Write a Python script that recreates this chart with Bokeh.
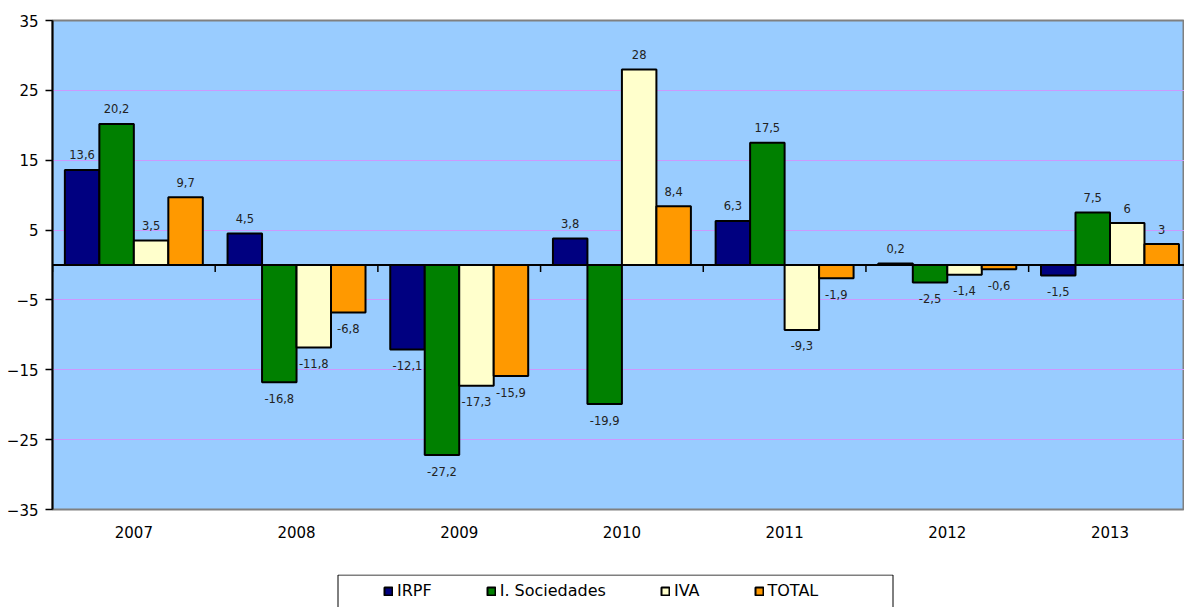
from bokeh.plotting import figure
from bokeh.layouts import column
from bokeh.models import (Range1d, FixedTicker, ColumnDataSource, Legend, LegendItem, Span)
from bokeh.core.properties import value
from bokeh.embed import file_html
from bokeh.resources import INLINE

years = ["2007", "2008", "2009", "2010", "2011", "2012", "2013"]
irpf = [13.6, 4.5, -12.1, 3.8, 6.3, 0.2, -1.5]
sociedades = [20.2, -16.8, -27.2, -19.9, 17.5, -2.5, 7.5]
iva = [3.5, -11.8, -17.3, 28, -9.3, -1.4, 6]
total = [9.7, -6.8, -15.9, 8.4, -1.9, -0.6, 3]
series_names = ["IRPF", "I. Sociedades", "IVA", "TOTAL"]
series_colors = ["#000080", "#008000", "#FFFFCC", "#FF9900"]
y_ticks = [-35, -25, -15, -5, 5, 15, 25, 35]

FONT = "DejaVu Sans"
BAR_W = 0.212

p = figure(width=1184, height=574, title=None,
           x_range=Range1d(-0.5, 6.458), y_range=Range1d(-35, 35),
           output_backend="svg", toolbar_location=None,
           min_border_left=52, min_border_right=0, min_border_top=20, min_border_bottom=65)

p.background_fill_color = "#99CCFF"
p.border_fill_color = "white"
p.outline_line_color = "#808080"
p.outline_line_width = 2

# y axis
p.yaxis.ticker = FixedTicker(ticks=y_ticks)
p.yaxis.axis_line_color = "black"
p.yaxis.axis_line_width = 2
p.yaxis.major_tick_line_color = "black"
p.yaxis.major_tick_line_width = 1.5
p.yaxis.major_tick_out = 7
p.yaxis.major_tick_in = 0
p.yaxis.minor_tick_line_color = None
p.yaxis.major_label_standoff = 7
p.yaxis.major_label_text_font = FONT
p.yaxis.major_label_text_font_size = "15px"
p.yaxis.major_label_text_color = "black"

# x axis (category labels)
p.xaxis.ticker = FixedTicker(ticks=list(range(len(years))))
p.xaxis.major_label_overrides = {i: y for i, y in enumerate(years)}
p.xaxis.axis_line_color = None
p.xaxis.major_tick_line_color = None
p.xaxis.minor_tick_line_color = None
p.xaxis.major_label_standoff = 10
p.xaxis.major_label_text_font = FONT
p.xaxis.major_label_text_font_size = "15px"
p.xaxis.major_label_text_color = "black"

p.xgrid.grid_line_color = None
p.ygrid.ticker = FixedTicker(ticks=y_ticks)
p.ygrid.grid_line_color = "#CC99FF"
p.ygrid.grid_line_width = 1.2

all_series = [irpf, sociedades, iva, total]
for k, (vals, color) in enumerate(zip(all_series, series_colors)):
    off = (k - 1.5) * BAR_W
    xs = [i + off for i in range(len(years))]
    src = ColumnDataSource(dict(x=xs, top=vals))
    p.vbar(x="x", top="top", bottom=0, width=BAR_W, source=src,
           fill_color=color, line_color="black", line_width=2)
    labels = [f"{v:g}".replace(".", ",") for v in vals]
    pos = ColumnDataSource(dict(x=[x for x, v in zip(xs, vals) if v >= 0],
                                y=[v for v in vals if v >= 0],
                                t=[l for l, v in zip(labels, vals) if v >= 0]))
    neg = ColumnDataSource(dict(x=[x for x, v in zip(xs, vals) if v < 0],
                                y=[v for v in vals if v < 0],
                                t=[l for l, v in zip(labels, vals) if v < 0]))
    for s, yo in ((pos, -15), (neg, 16)):
        p.text(x="x", y="y", text="t", source=s, text_align="center",
               text_baseline="middle", y_offset=yo,
               text_font=value(FONT), text_font_size="11.5px", text_color="#222222")

# zero axis line with ticks between categories
p.add_layout(Span(location=0, dimension="width", line_color="black", line_width=2))
bounds = [i - 0.5 for i in range(len(years) + 1)]
p.segment(x0=bounds, y0=[0] * len(bounds), x1=bounds, y1=[-1.0] * len(bounds),
          line_color="black", line_width=1.5)

# legend strip (frame aligned with the main plot's frame)
p2 = figure(width=1184, height=33, title=None,
            x_range=Range1d(52, 1184), y_range=Range1d(33, 0),
            output_backend="svg", toolbar_location=None,
            min_border_left=52, min_border_right=0, min_border_top=0, min_border_bottom=0)
p2.axis.visible = False
p2.grid.grid_line_color = None
p2.outline_line_color = None
p2.background_fill_color = "white"
p2.border_fill_color = "white"
p2.line(x=[337.5, 337.5, 892.5, 892.5], y=[40, 0.5, 0.5, 40], line_color="black", line_width=1)

# legend-only renderers (NaN data: nothing drawn in the strip itself)
nan = float("nan")
dummies = []
for color in series_colors:
    dummies.append(p2.vbar(x=[nan], top=[nan], bottom=[nan], width=1,
                           fill_color=color, line_color="black", line_width=2))

legend = Legend(items=[LegendItem(label=n, renderers=[r]) for n, r in zip(series_names, dummies)],
                orientation="horizontal", location=(331, 7),
                padding=0, spacing=54, margin=0,
                glyph_width=10, glyph_height=10, label_standoff=4,
                label_text_font=FONT, label_text_font_size="16px",
                label_text_color="black",
                border_line_color=None, background_fill_alpha=0)
p2.add_layout(legend)

layout = column(p, p2, spacing=0)
open("out.html", "w").write(file_html(layout, INLINE))
